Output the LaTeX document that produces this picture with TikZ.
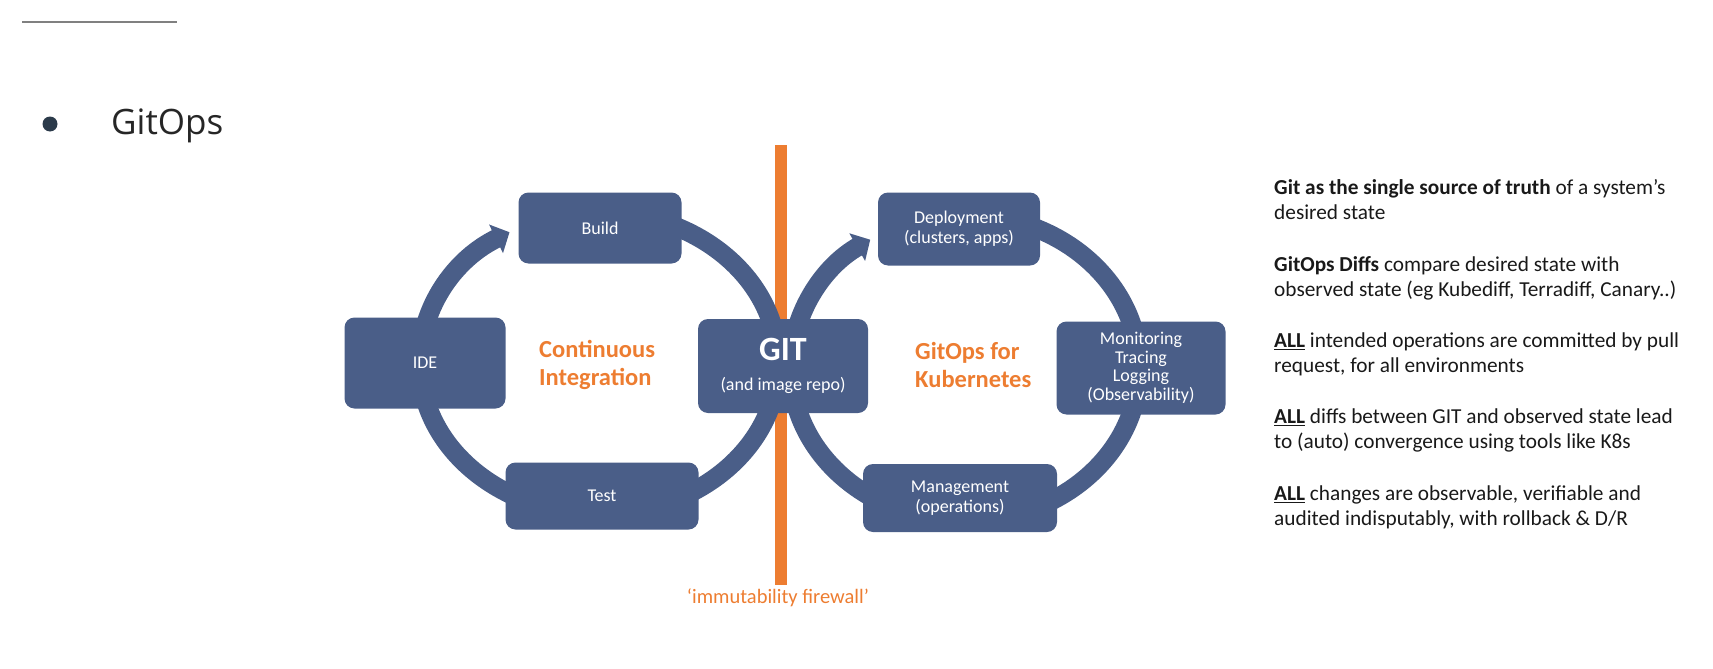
\documentclass[tikz,border=0pt]{standalone}
\usepackage{fontspec}
\setmainfont{Carlito}
\newfontfamily\headfont{Open Sans}
\usepackage{tikz}
\usetikzlibrary{arrows.meta}
\definecolor{boxblue}{HTML}{4A5E88}
\definecolor{fireorange}{HTML}{ED7D31}
\definecolor{dotdark}{HTML}{2B3A4A}

\begin{document}
\begin{tikzpicture}[x=1pt, y=-1pt,
    stage/.style={
      rectangle,
      rounded corners=10pt,
      fill=boxblue,
      text=white,
      align=center,
      inner sep=0pt,
      font=\fontsize{18}{20}\selectfont
    },
    ring/.style={
      draw=boxblue,
      line width=19pt,
      -{Triangle[width=31pt,length=15pt]}
    },
    theme/.style={
      anchor=west,
      align=left,
      inner sep=0pt,
      text=fireorange,
      font=\fontsize{24.5}{28}\selectfont\bfseries
    },
    note/.style={
      anchor=north west,
      align=left,
      inner sep=0pt,
      text=black!90,
      font=\fontsize{21.3}{25}\selectfont
    }
]
\useasboundingbox (0,0) rectangle (1713,669);

%% Heading
\draw[black!50, line width=1.5pt] (22,22) -- (177,22);
\fill[dotdark] (50,124) circle (7.5pt);
\node[anchor=base west, inner sep=0pt, text=black!85, font=\headfont\fontsize{35}{40}\selectfont] (title) at (111,134) {GitOps};

%% Firewall
\coordinate (wall) at (781,145);
\node[text=fireorange, font=\fontsize{20.5}{24}\selectfont] (firewall) at (778,598) {‘immutability firewall’};
\draw[fireorange, line width=12pt] (wall) -- (wall |- 0,585);

%% Loops
\coordinate (ci) at (599,363);
\coordinate (ops) at (965,368);
\draw[ring] (ci) ++(265:179 and 151) arc[start angle=265, end angle=600, x radius=179, y radius=151];
\draw[ring] (ops) ++(272:174 and 153) arc[start angle=272, end angle=597, x radius=174, y radius=153];

%% Stages
\node[stage, minimum width=161pt, minimum height=91pt] (ide) at (425,363) {IDE};
\node[stage, minimum width=163pt, minimum height=71pt] (build) at (600,228) {Build};
\node[stage, minimum width=193pt, minimum height=67pt] (test) at (602,496) {Test};
\node[stage, minimum width=170pt, minimum height=94pt, font=\fontsize{18}{30}\selectfont] (git) at (783,366) {{\bfseries\fontsize{34}{34}\selectfont GIT}\\(and image repo)};
\node[stage, minimum width=162pt, minimum height=73pt] (deploy) at (959,229) {Deployment\\(clusters, apps)};
\node[stage, minimum width=169pt, minimum height=93pt, font=\fontsize{18}{18.5}\selectfont] (monitor) at (1141,368) {Monitoring\\Tracing\\Logging\\(Observability)};
\node[stage, minimum width=194pt, minimum height=68pt] (manage) at (960,498) {Management\\(operations)};

\node[theme] (ci text) at (539,365) {Continuous\\Integration};
\node[theme] (ops text) at (915,365) {GitOps for\\Kubernetes};

%% Notes
\node[note] (truth) at (1274,179) {\textbf{Git as the single source of truth} of a system’s\\desired state};
\node[note] (diffs) at (1274,256) {\textbf{GitOps Diffs} compare desired state with\\observed state (eg Kubediff, Terradiff, Canary..)};
\node[note] (commits) at (1274,333) {\underline{\textbf{ALL}} intended operations are committed by pull\\request, for all environments};
\node[note] (converge) at (1274,409) {\underline{\textbf{ALL}} diffs between GIT and observed state lead\\to (auto) convergence using tools like K8s};
\node[note] (audit) at (1274,486) {\underline{\textbf{ALL}} changes are observable, verifiable and\\audited indisputably, with rollback \& D/R};

\end{tikzpicture}
\end{document}
